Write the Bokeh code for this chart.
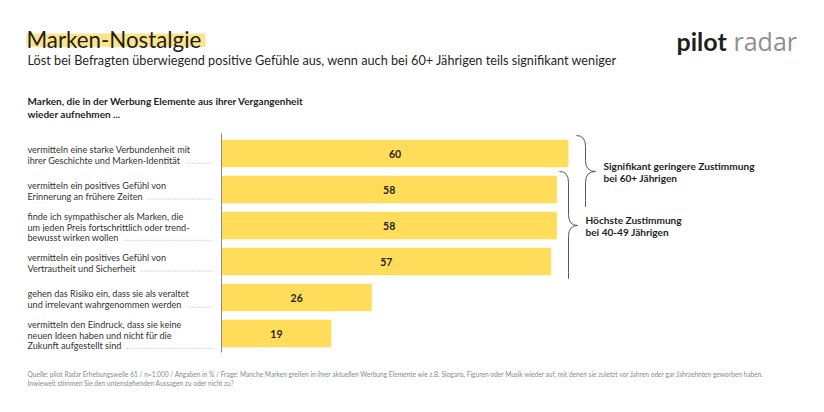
from bokeh.plotting import figure
from bokeh.models import Range1d, Label, ColumnDataSource
from bokeh.embed import file_html
from bokeh.resources import INLINE
from bokeh.core.properties import value

# ---------------- data ----------------
categories = [
    "vermitteln eine starke Verbundenheit mit\nihrer Geschichte und Marken-Identität",
    "vermitteln ein positives Gefühl von\nErinnerung an frühere Zeiten",
    "finde ich sympathischer als Marken, die\num jeden Preis fortschrittlich oder trend-\nbewusst wirken wollen",
    "vermitteln ein positives Gefühl von\nVertrautheit und Sicherheit",
    "gehen das Risiko ein, dass sie als veraltet\nund irrelevant wahrgenommen werden",
    "vermitteln den Eindruck, dass sie keine\nneuen Ideen haben und nicht für die\nZukunft aufgestellt sind",
]
values = [60, 58, 58, 57, 26, 19]

brace_texts = [
    "Signifikant geringere Zustimmung\nbei 60+ Jährigen",
    "Höchste Zustimmung\nbei 40-49 Jährigen",
]
brace_groups = [(0, 1), (1, 3)]

title = "Marken-Nostalgie"
subtitle = "Löst bei Befragten überwiegend positive Gefühle aus, wenn auch bei 60+ Jährigen teils signifikant weniger"
header = "Marken, die in der Werbung Elemente aus ihrer Vergangenheit\nwieder aufnehmen ..."
footnote = [
    "Quelle: pilot Radar Erhebungswelle 61 / n=1.000 / Angaben in % / Frage: Manche Marken greifen in ihrer aktuellen Werbung Elemente wie z.B. Slogans, Figuren oder Musik wieder auf, mit denen sie zuletzt vor Jahren oder gar Jahrzehnten geworben haben.",
    "Inwieweit stimmen Sie den untenstehenden Aussagen zu oder nicht zu?",
]

# ---------------- layout helpers (page pixels -> data) ----------------
W, H = 808, 396
OFF = 0         # observed canvas offset on page
X0 = 221.0      # page x of value 0
PXU = 5.783     # pixels per value unit
Y0 = 153.0      # page y of first category center
STEP = 36.0     # pixels per category


def xd(px):
    return (px - X0) / PXU


def yd(py):
    return (py - Y0) / STEP


BAR = "#FFDC5A"
HILITE = "#FCE48E"
DARK = "#1f1f1f"
TXT = "#333333"
FONT = "Lato"

p = figure(width=W, height=H, output_backend="svg", toolbar_location=None,
           x_range=Range1d(xd(OFF), xd(OFF + W)),
           y_range=Range1d(yd(OFF + H), yd(OFF)),
           min_border=0, outline_line_color=None, tools="")
p.xaxis.visible = False
p.yaxis.visible = False
p.xgrid.visible = False
p.ygrid.visible = False
p.background_fill_color = "white"
p.border_fill_color = "white"

# title highlight
p.quad(left=xd(26), right=xd(205), top=yd(33), bottom=yd(46.5),
       fill_color=HILITE, line_color=None)


def lab(px, py, text, size, color=TXT, style="normal", align="left",
        font=FONT, bg=None):
    kw = {}
    if bg is not None:
        kw["background_fill_color"] = bg
    p.add_layout(Label(x=xd(px), y=yd(py), text=text, text_font=font,
                       text_font_size=f"{size}px", text_font_style=style,
                       text_color=color, text_align=align,
                       text_baseline="middle", **kw))


lab(26, 38.5, title, 22.3, color=DARK)
lab(27, 59.5, subtitle, 12.7, color=DARK)
lab(676, 40, "pilot", 25, color=DARK, style="bold")
lab(733, 40, "radar", 25, color="#8f8f8f", font="Open Sans")

hl = header.split("\n")
lab(27, 100.5, hl[0], 10.0, color=DARK, style="bold")
lab(27, 113, hl[1], 10.0, color=DARK, style="bold")

# ---------------- bars ----------------
idx = list(range(len(values)))
src = ColumnDataSource(dict(y=idx, v=values, mid=[v / 2 for v in values],
                            t=[str(v) for v in values]))
p.hbar(y="y", left=0, right="v", height=0.76, source=src,
       fill_color=BAR, line_color=None)
p.text(x="mid", y="y", text="t", source=src, text_font=value(FONT),
       text_font_size="10.5px", text_font_style="bold", text_color=DARK,
       text_align="center", text_baseline="middle")

# axis line
p.segment(x0=[0], x1=[0], y0=[yd(133)], y1=[yd(352)],
          line_color="#8a8a8a", line_width=1)

# category labels with dotted leaders
LS = 10.3 / STEP
SHIFT = 1.5 / STEP
for i, cat in enumerate(categories):
    lines = cat.split("\n")
    n = len(lines)
    for j, line in enumerate(lines):
        yy = i + (j - (n - 1) / 2) * LS + SHIFT
        if j == n - 1:
            p.segment(x0=[xd(27)], x1=[xd(213)], y0=[yy + 3.0 / STEP],
                      y1=[yy + 3.0 / STEP], line_color="#9a9a9a",
                      line_dash="1 2", line_width=0.8)
            p.add_layout(Label(x=xd(27), y=yy, text=line + "  ", text_font=FONT,
                               text_font_size="9.1px", text_color=TXT,
                               text_align="left", text_baseline="middle",
                               background_fill_color="white"))
        else:
            p.add_layout(Label(x=xd(27), y=yy, text=line, text_font=FONT,
                               text_font_size="9.1px", text_color=TXT,
                               text_align="left", text_baseline="middle"))

# ---------------- braces ----------------
brace_x = [(576, 585, 595), (559, 568, 577)]
R = 11.0


def brace(xl, xv, xt, ytop_i, ytip_i, ybot_i):
    r = R / STEP
    a, v, t = xd(xl), xd(xv), xd(xt)
    x0 = [a, v, v, v]
    y0 = [ytop_i, ytip_i - r, ytip_i + r, ybot_i]
    x1 = [v, t, t, v]
    y1 = [ytop_i + r, ytip_i, ytip_i, ybot_i - r]
    cx = [v, v, v, v]
    cy = [ytop_i, ytip_i, ytip_i, ybot_i]
    p.quadratic(x0=x0, y0=y0, x1=x1, y1=y1, cx=cx, cy=cy,
                line_color="#555555", line_width=1)
    p.segment(x0=[v, v], x1=[v, v], y0=[ytop_i + r, ytip_i + r],
              y1=[ytip_i - r, ybot_i - r], line_color="#555555", line_width=1)


for (g0, g1), (xl, xv, xt), txt in zip(brace_groups, brace_x, brace_texts):
    ytop = g0 - 0.5
    ybot = g1 + 0.48
    ytip = (g0 + g1) / 2
    brace(xl, xv, xt, ytop, ytip, ybot)
    tl = txt.split("\n")
    for j, line in enumerate(tl):
        p.add_layout(Label(x=xd(xt + 8), y=ytip + (j - 0.5) * 12 / STEP,
                           text=line, text_font=FONT, text_font_size="10.1px",
                           text_font_style="bold", text_color=DARK,
                           text_align="left", text_baseline="middle"))

# ---------------- footnote ----------------
lab(27, 373.5, footnote[0], 6.6, color="#8a8a8a")
lab(27, 382, footnote[1], 6.6, color="#8a8a8a")

open("out.html", "w").write(file_html(p, INLINE))
